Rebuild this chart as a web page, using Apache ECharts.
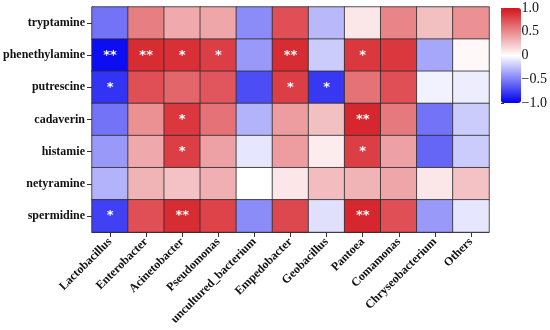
<!DOCTYPE html>
<html><head><meta charset="utf-8">
<script src="https://cdn.jsdelivr.net/npm/echarts@6/dist/echarts.min.js"></script>
<style>html,body{margin:0;padding:0;background:#fff}#c{width:550px;height:330px}</style>
</head><body><div id="c"></div>
<script>
const bacteria = ['Lactobacillus','Enterobacter','Acinetobacter','Pseudomonas','uncultured_bacterium','Empedobacter','Geobacillus','Pantoea','Comamonas','Chryseobacterium','Others'];
const amines = ['tryptamine','phenethylamine','putrescine','cadaverin','histamie','netyramine','spermidine'];
const colorbarTicks = [-1, -0.5, 0, 0.5, 1];

const tryptamine     = [-0.55, 0.55, 0.36, 0.38, -0.45, 0.75, -0.28, 0.10, 0.52, 0.27, 0.47];
const phenethylamine = [-0.95, 0.90, 0.88, 0.82, -0.40, 0.90, -0.20, 0.85, 0.85, -0.35, 0.03];
const putrescine     = [-0.80, 0.75, 0.65, 0.72, -0.70, 0.82, -0.78, 0.60, 0.75, -0.05, -0.07];
const cadaverin      = [-0.55, 0.47, 0.85, 0.60, -0.30, 0.42, 0.27, 0.92, 0.57, -0.55, -0.20];
const histamie       = [-0.40, 0.37, 0.82, 0.40, -0.10, 0.42, 0.08, 0.82, 0.40, -0.60, -0.20];
const netyramine     = [-0.30, 0.32, 0.26, 0.34, 0.00, 0.10, 0.28, 0.32, 0.38, 0.10, 0.26];
const spermidine     = [-0.75, 0.75, 0.90, 0.80, -0.45, 0.78, -0.12, 0.92, 0.75, -0.40, -0.10];

const sigTryptamine     = ['','','','','','','','','','',''];
const sigPhenethylamine = ['**','**','*','*','','**','','*','','',''];
const sigPutrescine     = ['*','','','','','*','*','','','',''];
const sigCadaverin      = ['','','*','','','','','**','','',''];
const sigHistamie       = ['','','*','','','','','*','','',''];
const sigNetyramine     = ['','','','','','','','','','',''];
const sigSpermidine     = ['*','','**','','','','','**','','',''];

const rows = [tryptamine, phenethylamine, putrescine, cadaverin, histamie, netyramine, spermidine];
const sigs = [sigTryptamine, sigPhenethylamine, sigPutrescine, sigCadaverin, sigHistamie, sigNetyramine, sigSpermidine];
const data = [];
rows.forEach((r, yi) => r.forEach((v, xi) => data.push([xi, yi, v, sigs[yi][xi]])));

const serif = '"Liberation Serif", "DejaVu Serif", serif';
const chart = echarts.init(document.getElementById('c'));
chart.setOption({
  animation: false,
  grid: [
    {left: 91, right: 61, top: 7, bottom: 98},
    {left: 501, width: 20, top: 8, height: 95}
  ],
  xAxis: [
    {type: 'category', data: bacteria, gridIndex: 0,
     axisLine: {show: true, lineStyle: {color: '#333'}},
     axisTick: {show: true, alignWithLabel: true, length: 5, lineStyle: {color: '#333'}},
     axisLabel: {rotate: 45, interval: 0, fontFamily: serif, fontWeight: 'bold', fontSize: 12, color: '#111', margin: 8},
     splitLine: {show: false}},
    {type: 'value', gridIndex: 1, show: false, min: 0, max: 1}
  ],
  yAxis: [
    {type: 'category', data: amines, inverse: true, gridIndex: 0,
     axisLine: {show: true, lineStyle: {color: '#333'}},
     axisTick: {show: true, alignWithLabel: true, length: 5, lineStyle: {color: '#333'}},
     axisLabel: {interval: 0, fontFamily: serif, fontWeight: 'bold', fontSize: 12, color: '#111', margin: 7}},
    {type: 'value', gridIndex: 1, position: 'right', min: -1, max: 1, interval: 0.5,
     axisLine: {show: false},
     axisTick: {show: true, length: 3, lineStyle: {color: '#333'}},
     splitLine: {show: false},
     axisLabel: {fontFamily: serif, fontSize: 14, color: '#111', margin: 4,
       formatter: v => v === 0 ? '0' : (v < 0 ? '\u2212' + Math.abs(v).toFixed(1) : v.toFixed(1))}}
  ],
  visualMap: {
    type: 'continuous', min: -1, max: 1, calculable: false, dimension: 2,
    seriesIndex: 0, orient: 'vertical', left: 501, top: 8, padding: 0,
    itemWidth: 20, itemHeight: 95, text: null, showLabel: false, hoverLink: false,
    inRange: {color: ['#0000f0', '#ffffff', '#d4141c']}
  },
  series: [{
    type: 'heatmap', xAxisIndex: 0, yAxisIndex: 0, data: data,
    encode: {x: 0, y: 1, value: 2},
    itemStyle: {borderColor: '#2a2a2a', borderWidth: 0.8},
    label: {show: true, formatter: p => p.data[3], color: '#fff', fontSize: 13, fontWeight: 'bold', fontFamily: 'DejaVu Sans'},
    emphasis: {disabled: true}
  }]
});
</script></body></html>
